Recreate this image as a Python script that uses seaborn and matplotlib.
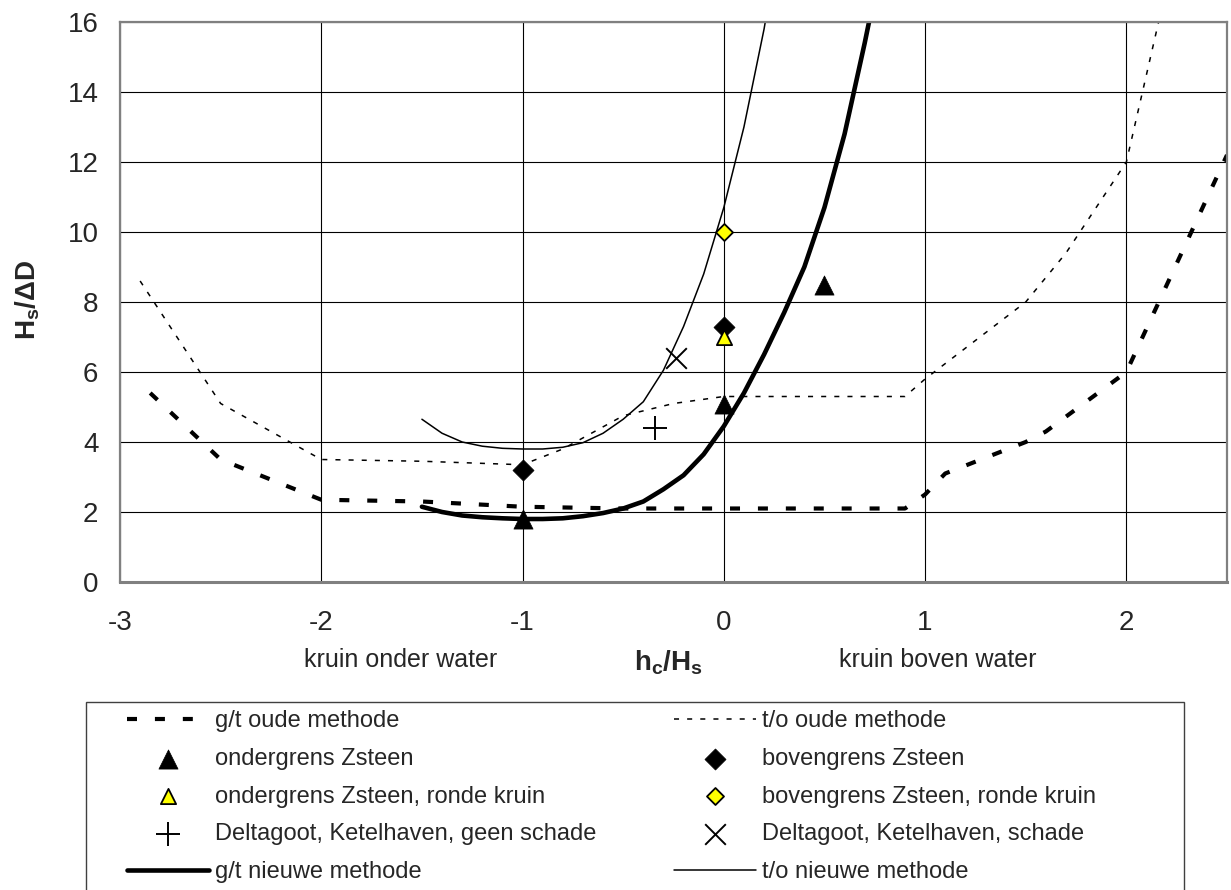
import numpy as np
import matplotlib
matplotlib.use('Agg')
import matplotlib.pyplot as plt
import seaborn as sns

# Old methods (piecewise lines)
gt_old_x = [-2.85, -2.5, -2.0, -1.5, -1.0, -0.5, 0.0, 0.5, 0.9, 1.0, 1.1, 1.5, 1.6, 2.0, 2.5]
gt_old_y = [5.4, 3.5, 2.35, 2.3, 2.15, 2.1, 2.1, 2.1, 2.1, 2.5, 3.1, 4.0, 4.3, 6.0, 12.2]
to_old_x = [-2.9, -2.5, -2.0, -1.5, -1.0, -0.8, -0.5, -0.25, 0.0, 0.5, 0.9, 1.0, 1.5, 1.7, 2.0, 2.2]
to_old_y = [8.6, 5.1, 3.5, 3.45, 3.35, 3.8, 4.75, 5.1, 5.3, 5.3, 5.3, 5.8, 8.0, 9.4, 12.0, 17.0]

# New methods (curves)
gt_new_x = [-1.5, -1.4, -1.3, -1.2, -1.1, -1.0, -0.9, -0.8, -0.7, -0.6, -0.5, -0.4,
            -0.3, -0.2, -0.1, 0.0, 0.1, 0.2, 0.3, 0.4, 0.5, 0.6, 0.7, 0.75]
gt_new_y = [2.15, 2.0, 1.9, 1.85, 1.82, 1.8, 1.8, 1.82, 1.88, 1.97, 2.1, 2.3,
            2.65, 3.05, 3.65, 4.45, 5.4, 6.5, 7.7, 9.0, 10.7, 12.8, 15.4, 16.8]
to_new_x = [-1.5, -1.4, -1.3, -1.2, -1.1, -1.0, -0.9, -0.8, -0.7, -0.6, -0.5, -0.4,
            -0.3, -0.2, -0.1, 0.0, 0.1, 0.2, 0.25]
to_new_y = [4.65, 4.25, 4.0, 3.88, 3.82, 3.8, 3.8, 3.85, 3.98, 4.25, 4.65, 5.15,
            6.05, 7.3, 8.8, 10.7, 13.0, 15.8, 17.5]

# Measurements
onder_x = [-1.0, 0.0, 0.5]
onder_y = [1.8, 5.1, 8.5]
boven_x = [-1.0, 0.0]
boven_y = [3.2, 7.3]
onder_rond_x = [0.0]
onder_rond_y = [7.0]
boven_rond_x = [0.0]
boven_rond_y = [10.0]
delta_geen_x = [-0.34]
delta_geen_y = [4.4]
delta_schade_x = [-0.24]
delta_schade_y = [6.4]

sns.set_style('white')
plt.rcParams['font.family'] = ['Liberation Sans', 'DejaVu Sans']
plt.rcParams['mathtext.fontset'] = 'custom'
plt.rcParams['mathtext.rm'] = 'Liberation Sans'
plt.rcParams['mathtext.bf'] = 'Liberation Sans:bold'
plt.rcParams['axes.unicode_minus'] = False

W, H = 1231, 890
fig = plt.figure(figsize=(W / 100, H / 100), dpi=100)
# plot area: x 120..1227 px, y 22..582 px
ax = fig.add_axes([120 / W, 1 - 582 / H, 1107 / W, 560 / H])

# lines
sns.lineplot(x=gt_old_x, y=gt_old_y, ax=ax, sort=False, color='black', lw=3,
             linestyle=(0, (2.4, 4.3)), label='g/t oude methode')
sns.lineplot(x=to_old_x, y=to_old_y, ax=ax, sort=False, color='black', lw=1.1,
             linestyle=(0, (3.3, 5.3)), label='t/o oude methode')
sns.lineplot(x=gt_new_x, y=gt_new_y, ax=ax, sort=False, color='black', lw=3.3,
             label='g/t nieuwe methode')
sns.lineplot(x=to_new_x, y=to_new_y, ax=ax, sort=False, color='black', lw=1.1,
             label='t/o nieuwe methode')

# markers
sns.scatterplot(x=onder_x, y=onder_y, ax=ax, marker='^', s=190, color='black',
                edgecolor='black', linewidth=0.5, label='ondergrens Zsteen', zorder=5)
sns.scatterplot(x=boven_x, y=boven_y, ax=ax, marker='D', s=115, color='black',
                edgecolor='black', linewidth=0.5, label='bovengrens Zsteen', zorder=5)
sns.scatterplot(x=onder_rond_x, y=onder_rond_y, ax=ax, marker='^', s=120, color='yellow',
                edgecolor='black', linewidth=1.3, label='ondergrens Zsteen, ronde kruin', zorder=6)
sns.scatterplot(x=boven_rond_x, y=boven_rond_y, ax=ax, marker='D', s=75, color='yellow',
                edgecolor='black', linewidth=1.3, label='bovengrens Zsteen, ronde kruin', zorder=6)
sns.scatterplot(x=delta_geen_x, y=delta_geen_y, ax=ax, marker='+', s=280, color='black',
                linewidth=1.4, label='Deltagoot, Ketelhaven, geen schade', zorder=5)
sns.scatterplot(x=delta_schade_x, y=delta_schade_y, ax=ax, marker='x', s=220, color='black',
                linewidth=1.4, label='Deltagoot, Ketelhaven, schade', zorder=5)

ax.set_xlim(-3, 2.5)
ax.set_ylim(0, 16)
ax.set_xticks([-3, -2, -1, 0, 1, 2])
ax.set_xticks([-2.5, -1.5, -0.5, 0.5, 1.5, 2.5], minor=True)
ax.set_yticks(range(0, 17, 2))
ax.grid(True, which='major', color='black', lw=0.8)
for s in ax.spines.values():
    s.set_color('#808080')
    s.set_linewidth(1.6)
ax.spines['bottom'].set_linewidth(2.2)
ax.tick_params(axis='x', which='major', direction='out', length=7.5, width=0.8,
               labelsize=20, pad=13, color='black')
ax.tick_params(axis='x', which='minor', direction='inout', length=11, width=0.8, color='black')
ax.tick_params(axis='y', which='major', direction='out', length=7.5, width=0.8,
               labelsize=20, pad=8, color='black')
ax.set_xlabel('')
ax.set_ylabel('')

fig.text(28 / W, 1 - 300 / H, 'H$_\\mathbf{s}$/\u0394D', rotation=90, fontsize=20,
         fontweight='bold', ha='center', va='center')
fig.text(668 / W, 1 - 663 / H, 'h$_\\mathbf{c}$/H$_\\mathbf{s}$', fontsize=20,
         fontweight='bold', ha='center', va='center')
fig.text(401 / W, 1 - 660 / H, 'kruin onder water', fontsize=18, ha='center', va='center')
fig.text(938 / W, 1 - 660 / H, 'kruin boven water', fontsize=18, ha='center', va='center')

# legend: Excel order, two columns filled row by row
handles, labels = ax.get_legend_handles_labels()
lookup = dict(zip(labels, handles))
col1 = ['g/t oude methode', 'ondergrens Zsteen', 'ondergrens Zsteen, ronde kruin',
        'Deltagoot, Ketelhaven, geen schade', 'g/t nieuwe methode']
col2 = ['t/o oude methode', 'bovengrens Zsteen', 'bovengrens Zsteen, ronde kruin',
        'Deltagoot, Ketelhaven, schade', 't/o nieuwe methode']
order = col1 + col2
ax.get_legend().remove()
fig.legend([lookup[l] for l in order], order, ncol=2, loc='upper left',
           bbox_to_anchor=(127 / W, 1 - 710 / H), frameon=False, fontsize=17,
           handlelength=3.47, handletextpad=0.25, labelspacing=0.67, columnspacing=3.3,
           borderaxespad=0, borderpad=0)
rect = plt.Rectangle((86 / W, -0.01), 1098 / W, (890 - 702) / H + 0.01, transform=fig.transFigure,
                     fill=False, edgecolor='#404040', lw=1.0)
fig.patches.append(rect)

fig.savefig('out.png', dpi=100)
